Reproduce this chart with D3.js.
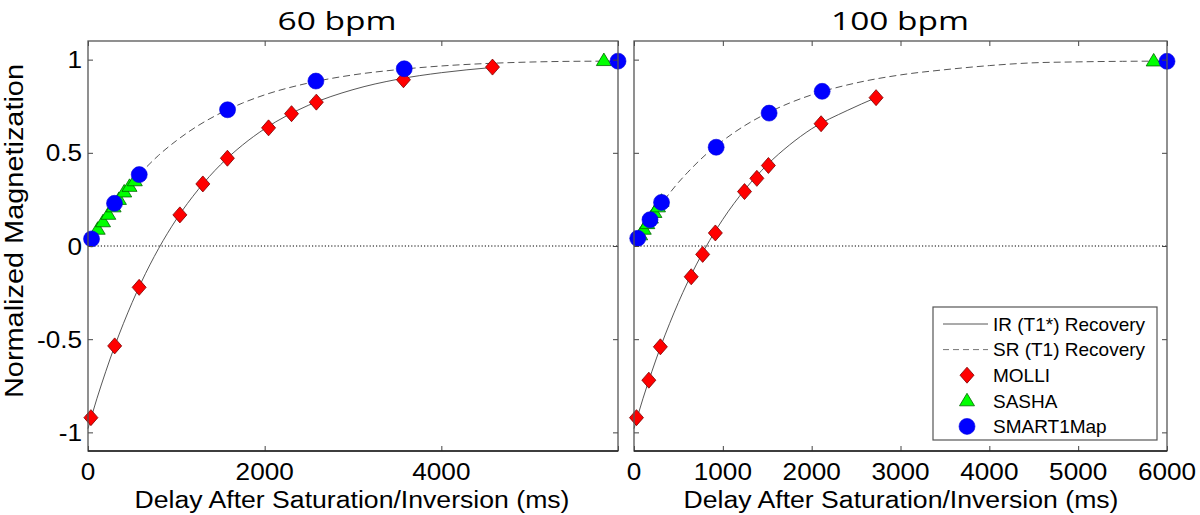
<!DOCTYPE html>
<html>
<head>
<meta charset="utf-8">
<script src="https://cdn.jsdelivr.net/npm/d3@7"></script>
<style>
  html, body { margin: 0; padding: 0; background: #fff; }
  svg { display: block; }
</style>
</head>
<body>
<svg id="chart" width="1200" height="515"></svg>
<script>
// ---------------- data ----------------
const panelTitles = ["60 bpm", "100 bpm"];
const xLabel = "Delay After Saturation/Inversion (ms)";
const yLabel = "Normalized Magnetization";

const yTicks = [-1, -0.5, 0, 0.5, 1];
const yTickLabels = ["-1", "-0.5", "0", "0.5", "1"];
const xTicks60 = [0, 2000, 4000, 6000];
const xTickLabels60 = ["0", "2000", "4000", ""];
const xTicks100 = [0, 1000, 2000, 3000, 4000, 5000, 6000];
const xTickLabels100 = ["0", "1000", "2000", "3000", "4000", "5000", "6000"];

const legendLabels = ["IR (T1*) Recovery", "SR (T1) Recovery", "MOLLI", "SASHA", "SMART1Map"];

// 60 bpm
const molliT60 = [33, 302, 579, 1040, 1300, 1578, 2044, 2304, 2585, 3571, 4579];
const molliM60 = [-0.921, -0.536, -0.222, 0.167, 0.333, 0.471, 0.634, 0.710, 0.772, 0.892, 0.960];
const sashaT60 = [110, 170, 230, 290, 350, 410, 470, 530, 5840];
const sashaM60 = [0.09, 0.13, 0.17, 0.21, 0.25, 0.29, 0.32, 0.35, 0.995];
const smartT60 = [40, 300, 580, 1580, 2580, 3580, 6000];
const smartM60 = [0.038, 0.229, 0.383, 0.731, 0.885, 0.951, 0.992];
const irT60 = [0, 100, 200, 300, 400, 500, 600, 800, 1000, 1250, 1500, 1750, 2000, 2500, 3000, 3500, 4000, 4579];
const irM60 = [-0.98, -0.82, -0.675, -0.54, -0.417, -0.303, -0.198, -0.013, 0.143, 0.304, 0.436, 0.542, 0.629, 0.756, 0.839, 0.894, 0.930, 0.958];
const srT60 = [0, 100, 200, 300, 400, 500, 600, 800, 1000, 1250, 1500, 1750, 2000, 2500, 3000, 3500, 4000, 4500, 5000, 5500, 6000];
const srM60 = [0, 0.08, 0.154, 0.221, 0.283, 0.341, 0.393, 0.487, 0.565, 0.647, 0.713, 0.767, 0.811, 0.875, 0.918, 0.946, 0.966, 0.979, 0.987, 0.991, 0.992];

// 100 bpm
const molliT100 = [28, 167, 297, 644, 773, 916, 1244, 1383, 1513, 2106, 2725];
const molliM100 = [-0.921, -0.720, -0.541, -0.165, -0.045, 0.070, 0.292, 0.363, 0.432, 0.656, 0.796];
const sashaT100 = [70, 110, 150, 190, 230, 270, 310, 5850];
const sashaM100 = [0.06, 0.09, 0.12, 0.15, 0.18, 0.21, 0.24, 0.993];
const smartT100 = [42, 180, 310, 925, 1521, 2118, 6000];
const smartM100 = [0.041, 0.141, 0.234, 0.530, 0.713, 0.830, 0.991];
const irT100 = [0, 100, 200, 300, 400, 500, 600, 800, 1000, 1250, 1500, 1750, 2000, 2400, 2725];
const irM100 = [-0.98, -0.82, -0.675, -0.54, -0.417, -0.303, -0.198, -0.013, 0.143, 0.304, 0.436, 0.542, 0.629, 0.727, 0.796];
const srT100 = [0, 100, 200, 300, 400, 500, 600, 800, 1000, 1250, 1500, 1750, 2000, 2500, 3000, 3500, 4000, 4450, 5000, 5500, 6000];
const srM100 = [0, 0.08, 0.154, 0.221, 0.283, 0.341, 0.393, 0.487, 0.565, 0.647, 0.713, 0.767, 0.811, 0.875, 0.918, 0.946, 0.968, 0.982, 0.988, 0.991, 0.992];

// ---------------- layout ----------------
const svg = d3.select("#chart");
const plotTop = 41, plotBottom = 451;
const panels = [
  { left: 88, right: 618, title: panelTitles[0], titleX: 337, titleW: 119,
    xTicks: xTicks60, xTickLabels: xTickLabels60, showY: true, xLabelX: 352,
    molliT: molliT60, molliM: molliM60, sashaT: sashaT60, sashaM: sashaM60,
    smartT: smartT60, smartM: smartM60, irT: irT60, irM: irM60, srT: srT60, srM: srM60 },
  { left: 634, right: 1167, title: panelTitles[1], titleX: 900, titleW: 138,
    xTicks: xTicks100, xTickLabels: xTickLabels100, showY: false, xLabelX: 901,
    molliT: molliT100, molliM: molliM100, sashaT: sashaT100, sashaM: sashaM100,
    smartT: smartT100, smartM: smartM100, irT: irT100, irM: irM100, srT: srT100, srM: srM100 }
];

const AX_FONT = "'Liberation Sans', Arial, sans-serif";
const TITLE_FONT = "'Open Sans', 'Noto Sans', sans-serif";
const SX = 1.09; // horizontal stretch of the reference's axis text

const diamondPath = "M0,-8L7,0L0,8L-7,0Z";
const trianglePath = "M0,-7.5L7.5,5L-7.5,5Z";

function drawMarkers(g, xs, ys, T, M, kind) {
  const pts = T.map((t, i) => [t, M[i]]);
  if (kind === "circle") {
    g.selectAll(null).data(pts).enter().append("circle")
      .attr("cx", d => xs(d[0])).attr("cy", d => ys(d[1])).attr("r", 8)
      .attr("fill", "#0000ff").attr("stroke", "#0000dd").attr("stroke-width", 0.6);
  } else {
    g.selectAll(null).data(pts).enter().append("path")
      .attr("d", kind === "diamond" ? diamondPath : trianglePath)
      .attr("transform", d => `translate(${xs(d[0])},${ys(d[1])})`)
      .attr("fill", kind === "diamond" ? "#ff0000" : "#00ff00")
      .attr("stroke", kind === "diamond" ? "#7a0000" : "#006400")
      .attr("stroke-width", 0.8);
  }
}

panels.forEach(p => {
  const xs = d3.scaleLinear().domain([0, 6000]).range([p.left, p.right]);
  const ys = d3.scaleLinear().domain([-1.1, 1.1]).range([plotBottom, plotTop]);
  const g = svg.append("g");

  // title
  g.append("text").attr("x", p.titleX).attr("y", 29.5)
    .attr("text-anchor", "middle").attr("font-family", TITLE_FONT)
    .attr("font-size", 25).attr("fill", "#000")
    .attr("textLength", p.titleW).attr("lengthAdjust", "spacingAndGlyphs")
    .text(p.title);

  // zero dotted line
  g.append("line").attr("x1", xs(0)).attr("x2", xs(6000))
    .attr("y1", ys(0)).attr("y2", ys(0))
    .attr("stroke", "#000").attr("stroke-width", 1).attr("stroke-dasharray", "1.2,2");

  // curves
  const line = d3.line().x(d => xs(d[0])).y(d => ys(d[1])).curve(d3.curveMonotoneX);
  g.append("path").datum(p.srT.map((t, i) => [t, p.srM[i]]))
    .attr("d", line).attr("fill", "none").attr("stroke", "#555")
    .attr("stroke-width", 1).attr("stroke-dasharray", "7,4");
  g.append("path").datum(p.irT.map((t, i) => [t, p.irM[i]]))
    .attr("d", line).attr("fill", "none").attr("stroke", "#444")
    .attr("stroke-width", 0.9);

  // markers
  drawMarkers(g, xs, ys, p.molliT, p.molliM, "diamond");
  drawMarkers(g, xs, ys, p.sashaT, p.sashaM, "triangle");
  drawMarkers(g, xs, ys, p.smartT, p.smartM, "circle");

  // axes (MATLAB style, ticks inside on all sides)
  const tickLen = 5;
  const axB = d3.axisBottom(xs).tickValues(p.xTicks).tickSize(-tickLen).tickFormat("");
  const axT = d3.axisTop(xs).tickValues(p.xTicks).tickSize(-tickLen).tickFormat("");
  const axL = d3.axisLeft(ys).tickValues(yTicks).tickSize(-tickLen).tickFormat("");
  const axR = d3.axisRight(ys).tickValues(yTicks).tickSize(-tickLen).tickFormat("");
  [[axB, `translate(0,${plotBottom})`], [axT, `translate(0,${plotTop})`],
   [axL, `translate(${p.left},0)`], [axR, `translate(${p.right},0)`]].forEach(([ax, tr]) => {
    const a = g.append("g").attr("transform", tr).call(ax);
    a.select(".domain").remove();
    a.selectAll(".tick line").attr("stroke", "#444").attr("stroke-width", 1);
  });

  // box
  g.append("rect").attr("x", p.left).attr("y", plotTop)
    .attr("width", p.right - p.left).attr("height", plotBottom - plotTop)
    .attr("fill", "none").attr("stroke", "#555").attr("stroke-width", 1.3);
  g.append("line").attr("x1", p.left).attr("x2", p.right).attr("y1", plotBottom).attr("y2", plotBottom)
    .attr("stroke", "#222").attr("stroke-width", 1.3);

  // x tick labels
  g.selectAll(null).data(p.xTicks).enter().append("text")
    .attr("transform", d => `translate(${xs(d)},480) scale(${SX},1)`)
    .attr("text-anchor", "middle")
    .attr("font-family", AX_FONT).attr("font-size", 24).attr("fill", "#000")
    .text((d, i) => p.xTickLabels[i]);

  // y tick labels
  if (p.showY) {
    g.selectAll(null).data(yTicks).enter().append("text")
      .attr("transform", d => `translate(82,${ys(d)}) scale(${SX},1)`)
      .attr("dy", "0.36em").attr("text-anchor", "end")
      .attr("font-family", AX_FONT).attr("font-size", 24).attr("fill", "#000")
      .text((d, i) => yTickLabels[i]);
    g.append("text").attr("transform", `translate(23,231) rotate(-90)`)
      .attr("text-anchor", "middle").attr("font-family", AX_FONT)
      .attr("font-size", 26).attr("fill", "#000")
      .attr("textLength", 334).attr("lengthAdjust", "spacingAndGlyphs")
      .text(yLabel);
  }

  // x label
  g.append("text").attr("x", p.xLabelX).attr("y", 508).attr("text-anchor", "middle")
    .attr("font-family", AX_FONT).attr("font-size", 23).attr("fill", "#000")
    .attr("textLength", 435).attr("lengthAdjust", "spacingAndGlyphs")
    .text(xLabel);

  // legend (right panel only)
  if (!p.showY) {
    const lg = g.append("g");
    lg.append("rect").attr("x", 933).attr("y", 307).attr("width", 224).attr("height", 133)
      .attr("fill", "#fff").attr("stroke", "#555").attr("stroke-width", 1.2);
    const rowY = i => 324 + i * 25.6;
    lg.append("line").attr("x1", 943).attr("x2", 988).attr("y1", rowY(0)).attr("y2", rowY(0))
      .attr("stroke", "#444").attr("stroke-width", 0.9);
    lg.append("line").attr("x1", 943).attr("x2", 988).attr("y1", rowY(1)).attr("y2", rowY(1))
      .attr("stroke", "#777").attr("stroke-width", 1).attr("stroke-dasharray", "6,4");
    lg.append("path").attr("d", diamondPath).attr("transform", `translate(967,${rowY(2)})`)
      .attr("fill", "#ff0000").attr("stroke", "#7a0000").attr("stroke-width", 0.8);
    lg.append("path").attr("d", trianglePath).attr("transform", `translate(967,${rowY(3)})`)
      .attr("fill", "#00ff00").attr("stroke", "#006400").attr("stroke-width", 0.8);
    lg.append("circle").attr("cx", 967).attr("cy", rowY(4)).attr("r", 8)
      .attr("fill", "#0000ff").attr("stroke", "#0000dd").attr("stroke-width", 0.6);
    lg.selectAll(null).data(legendLabels).enter().append("text")
      .attr("x", 993).attr("y", (d, i) => rowY(i)).attr("dy", "0.36em")
      .attr("font-family", AX_FONT).attr("font-size", 19).attr("fill", "#000")
      .text(d => d);
  }
});
</script>
</body>
</html>
